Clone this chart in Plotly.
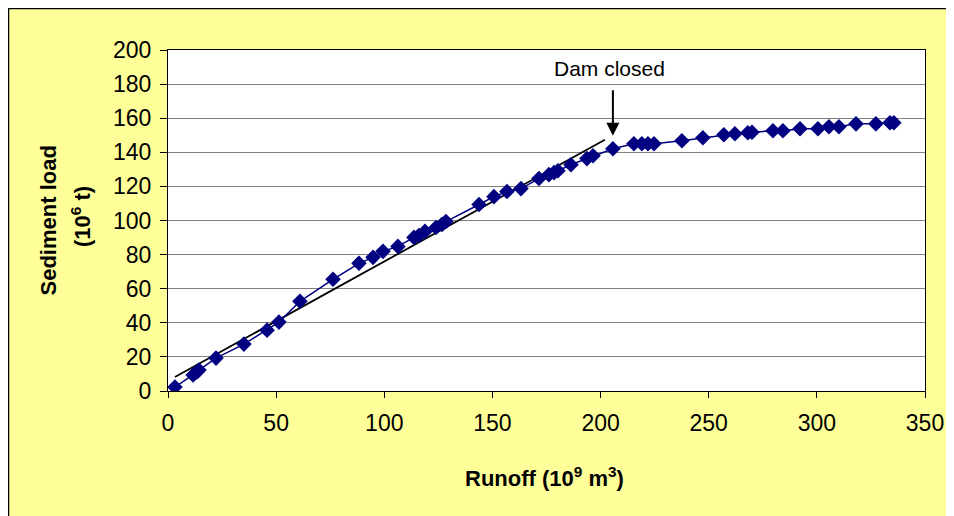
import plotly.graph_objects as go

# Cumulative runoff (10^9 m^3) and cumulative sediment load (10^6 t)
runoff = [3.2, 11.6, 13.4, 14.3, 22.2, 35.1, 45.8, 51.3, 61.0, 76.3, 88.3, 94.8,
          99.4, 106.3, 113.7, 116.0, 118.8, 123.9, 126.7, 128.5, 143.8, 150.7,
          156.7, 163.2, 171.5, 176.1, 178.5, 180.3, 186.3, 193.7, 196.5, 205.7,
          215.4, 219.1, 221.9, 224.7, 237.6, 247.3, 257.0, 262.1, 268.1, 270.0,
          279.7, 284.3, 292.2, 300.5, 305.6, 310.2, 318.1, 327.3, 333.8, 335.6]
sediment = [2.3, 9.4, 11.1, 12.3, 19.3, 27.5, 35.7, 40.4, 52.6, 65.5, 74.9, 78.4,
            81.9, 84.8, 90.1, 91.2, 93.6, 95.9, 97.7, 99.4, 109.4, 114.0,
            117.0, 118.7, 124.6, 126.9, 128.1, 129.2, 132.7, 136.3, 138.0, 142.1,
            145.0, 145.0, 145.0, 145.0, 146.8, 148.5, 150.3, 150.9, 151.5, 151.8,
            152.6, 152.6, 153.8, 153.8, 155.0, 155.0, 156.7, 156.7, 157.3, 157.3]

# Pre-dam trend line
trend_x = [3.2, 202.0]
trend_y = [8.2, 147.4]

# Annotation
dam_label = "Dam closed"
dam_x = 205.7
dam_arrow_tip_y = 149.7
dam_arrow_tail_y = 177.2
dam_label_x = 204.3
dam_label_y = 188.9

x_ticks = [0, 50, 100, 150, 200, 250, 300, 350]
y_ticks = [0, 20, 40, 60, 80, 100, 120, 140, 160, 180, 200]

FONT = "Liberation Sans, Arial, sans-serif"

L, R, T, B = 160, 37, 42, 133
PW, PH = 954 - L - R, 516 - T - B

fig = go.Figure()
fig.add_trace(go.Scatter(
    x=trend_x, y=trend_y, mode="lines",
    line=dict(color="black", width=1.8), hoverinfo="skip", showlegend=False))
fig.add_trace(go.Scatter(
    x=runoff, y=sediment, mode="lines+markers",
    line=dict(color="#000080", width=1.5),
    marker=dict(symbol="diamond", size=12, color="#000080"),
    showlegend=False))

fig.update_layout(
    width=954, height=516,
    margin=dict(l=L, r=R, t=T, b=B),
    paper_bgcolor="#FFFF99", plot_bgcolor="white",
    font=dict(family=FONT, size=23, color="black"),
    xaxis=dict(range=[0, 350], tickvals=x_ticks, showgrid=False, zeroline=False,
               showline=True, linecolor="black", linewidth=1, mirror=True,
               ticks="outside", ticklen=6, tickcolor="black",
               ticklabelstandoff=5, tickfont=dict(size=23)),
    yaxis=dict(range=[0, 200], tickvals=y_ticks, showgrid=True, gridcolor="#808080",
               gridwidth=1, zeroline=False,
               showline=True, linecolor="black", linewidth=1, mirror=True,
               ticks="outside", ticklen=7, tickcolor="black",
               ticklabelstandoff=4, tickfont=dict(size=23)),
    shapes=[dict(type="rect", xref="paper", yref="paper",
                 x0=-L / PW, x1=(954 - L) / PW, y0=-B / PH, y1=1 + T / PH,
                 line=dict(color="black", width=2.5), fillcolor="rgba(0,0,0,0)",
                 layer="below")],
    annotations=[
        dict(x=dam_x, y=dam_arrow_tip_y, ax=dam_x, ay=dam_arrow_tail_y,
             xref="x", yref="y", axref="x", ayref="y", text="",
             showarrow=True, arrowhead=2, arrowsize=1.3, arrowwidth=2, arrowcolor="black"),
        dict(x=dam_label_x, y=dam_label_y, xref="x", yref="y", text=dam_label,
             showarrow=False, font=dict(size=21), xanchor="center", yanchor="middle"),
        dict(x=(40 - L) / PW, y=0.5, xref="paper", yref="paper",
             text="<b>Sediment load</b>", textangle=-90, showarrow=False,
             font=dict(size=22), xanchor="center", yanchor="middle"),
        dict(x=(73 - L) / PW, y=0.51, xref="paper", yref="paper",
             text="<b>(10<sup>6</sup> t)</b>", textangle=-90, showarrow=False,
             font=dict(size=22), xanchor="center", yanchor="middle"),
        dict(x=0.498, y=-(469 - T - PH) / PH, xref="paper", yref="paper",
             text="<b>Runoff (10<sup>9</sup> m<sup>3</sup>)</b>", showarrow=False,
             font=dict(size=22), xanchor="center", yanchor="middle"),
    ],
)

fig.write_html("out.html")
